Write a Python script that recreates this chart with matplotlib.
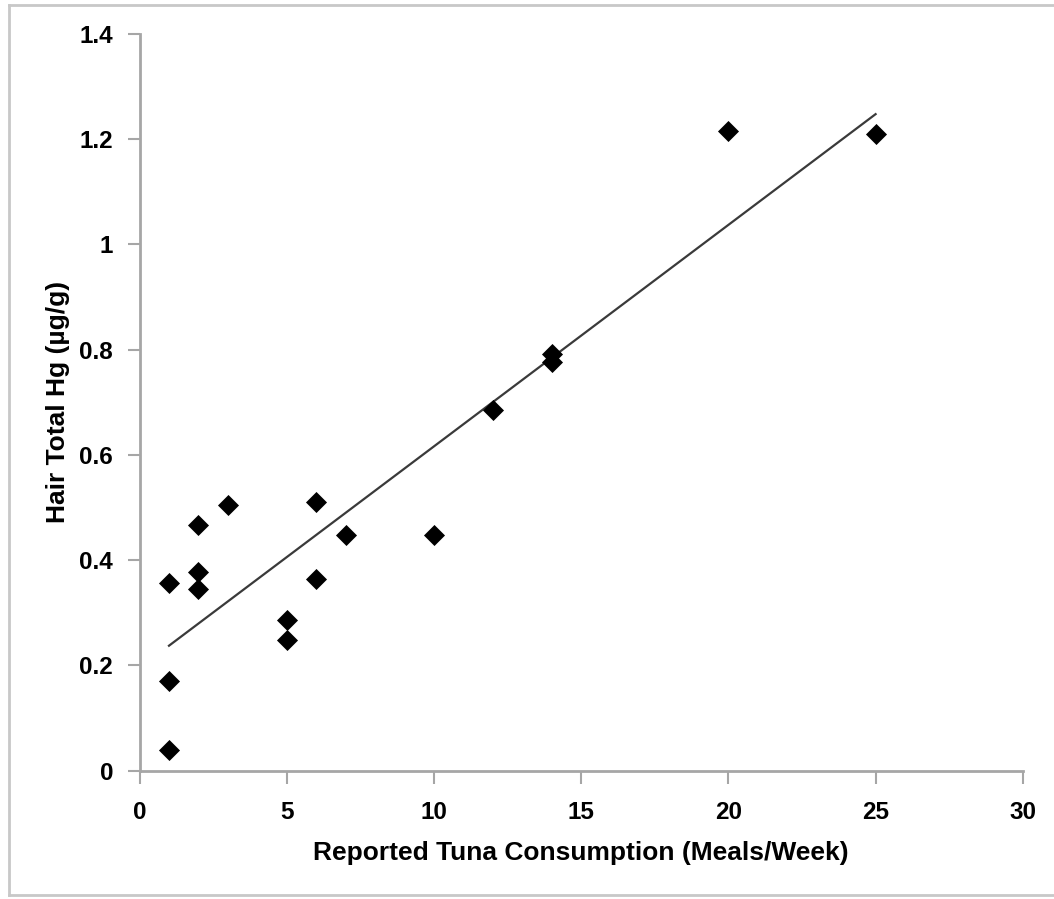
import numpy as np
import matplotlib
matplotlib.use("Agg")
import matplotlib.pyplot as plt
from matplotlib.lines import Line2D

meals = [1, 1, 1, 2, 2, 2, 3, 5, 5, 6, 6, 7, 10, 12, 14, 14, 20, 25]
hair_hg = [0.357, 0.170, 0.039, 0.467, 0.377, 0.345, 0.505, 0.286, 0.248,
           0.511, 0.364, 0.447, 0.447, 0.685, 0.791, 0.776, 1.215, 1.209]
x_ticks = [0, 5, 10, 15, 20, 25, 30]
y_ticks = [0, 0.2, 0.4, 0.6, 0.8, 1.0, 1.2, 1.4]
y_tick_labels = ["0", "0.2", "0.4", "0.6", "0.8", "1", "1.2", "1.4"]

plt.rcParams['font.family'] = ['Liberation Sans', 'DejaVu Sans']

fig = plt.figure(figsize=(10.54, 8.99), dpi=100)
ax = fig.add_axes([0.1324, 0.1427, 0.9704 - 0.1324, 0.9625 - 0.1427])

x = np.array(meals, dtype=float)
y = np.array(hair_hg)
ax.scatter(x, y, marker='D', s=115, color='black', zorder=3, linewidths=0)

slope, intercept = np.polyfit(x, y, 1)
xl = np.array([x.min(), x.max()])
ax.plot(xl, slope * xl + intercept, color='#3a3a3a', lw=1.6, zorder=2)

ax.set_xlim(0, 30)
ax.set_ylim(0, 1.4)
ax.set_xticks(x_ticks)
ax.set_yticks(y_ticks)
ax.set_yticklabels(y_tick_labels)

for s in ['top', 'right']:
    ax.spines[s].set_visible(False)
for s in ['left', 'bottom']:
    ax.spines[s].set_color('#a6a6a6')
    ax.spines[s].set_linewidth(2)
ax.tick_params(direction='out', length=9, width=1.5, color='#a6a6a6',
               labelsize=17.5)
ax.tick_params(axis='x', pad=13)
ax.tick_params(axis='y', pad=10)
for lab in ax.get_xticklabels() + ax.get_yticklabels():
    lab.set_fontweight('bold')

ax.set_xlabel("Reported Tuna Consumption (Meals/Week)", fontsize=19,
              fontweight='bold', labelpad=12)
ax.set_ylabel("Hair Total Hg (µg/g)", fontsize=19, fontweight='bold',
              labelpad=7)

# outer border (top, left, bottom)
bc = '#c8c8c8'
x0 = 8.5 / 1054
yt = 1 - 5 / 899
yb = 4 / 899
for xs, ys in [([x0, 1], [yt, yt]), ([x0, x0], [yb, yt]), ([x0, 1], [yb, yb])]:
    fig.add_artist(Line2D(xs, ys, transform=fig.transFigure, color=bc, lw=2))

fig.savefig("out.png", dpi=100)
